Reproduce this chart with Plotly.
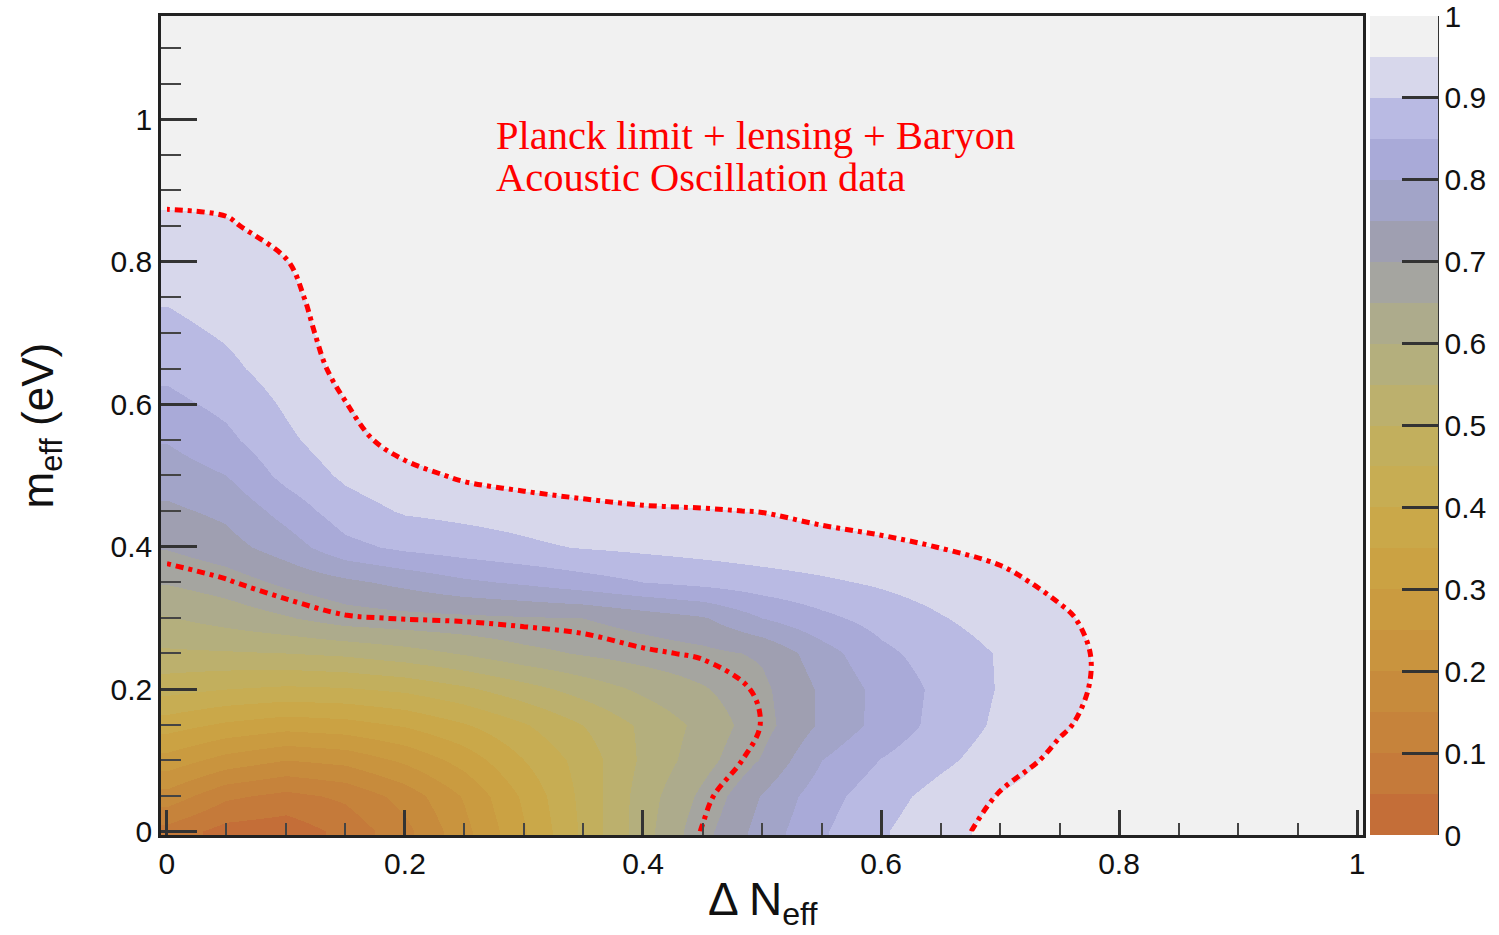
import plotly.graph_objects as go

# Grid nodes: Delta N_eff (columns) and m_eff in eV (rows)
x_nodes = [0.00, 0.05, 0.10, 0.15, 0.20, 0.25, 0.30, 0.35, 0.40, 0.45, 0.50,
           0.55, 0.60, 0.65, 0.70, 0.75, 0.80, 0.85, 0.90, 0.95, 1.00]
y_nodes = [0.00, 0.05, 0.10, 0.15, 0.20, 0.25, 0.30, 0.35, 0.40, 0.45, 0.50, 0.55,
           0.60, 0.65, 0.70, 0.75, 0.80, 0.85, 0.90, 0.95, 1.00, 1.05, 1.10, 1.15]

# Confidence level at each node, one list per m_eff row
cl_m000 = [0.080, 0.030, 0.020, 0.065, 0.135, 0.235, 0.345, 0.460, 0.580, 0.684, 0.771, 0.844, 0.895, 0.932, 0.967, 0.980, 0.990, 0.990, 0.990, 0.990, 0.990]
cl_m005 = [0.180, 0.110, 0.085, 0.110, 0.170, 0.255, 0.360, 0.465, 0.575, 0.663, 0.754, 0.830, 0.880, 0.919, 0.953, 0.975, 0.990, 0.990, 0.990, 0.990, 0.990]
cl_m010 = [0.280, 0.230, 0.200, 0.215, 0.260, 0.320, 0.400, 0.470, 0.560, 0.630, 0.705, 0.800, 0.852, 0.889, 0.926, 0.962, 0.980, 0.990, 0.990, 0.990, 0.990]
cl_m015 = [0.372, 0.340, 0.320, 0.330, 0.355, 0.395, 0.445, 0.500, 0.560, 0.615, 0.682, 0.759, 0.817, 0.868, 0.910, 0.943, 0.975, 0.990, 0.990, 0.990, 0.990]
cl_m020 = [0.467, 0.450, 0.440, 0.445, 0.460, 0.490, 0.530, 0.570, 0.610, 0.645, 0.689, 0.759, 0.816, 0.863, 0.904, 0.935, 0.966, 0.990, 0.990, 0.990, 0.990]
cl_m025 = [0.542, 0.545, 0.550, 0.560, 0.580, 0.605, 0.635, 0.655, 0.672, 0.687, 0.707, 0.779, 0.838, 0.874, 0.904, 0.934, 0.965, 0.990, 0.990, 0.990, 0.990]
cl_m030 = [0.596, 0.620, 0.645, 0.675, 0.684, 0.689, 0.695, 0.700, 0.723, 0.745, 0.800, 0.838, 0.869, 0.897, 0.921, 0.944, 0.967, 0.990, 0.990, 0.990, 0.990]
cl_m035 = [0.654, 0.675, 0.711, 0.739, 0.764, 0.791, 0.808, 0.829, 0.850, 0.864, 0.878, 0.892, 0.907, 0.924, 0.941, 0.959, 0.980, 0.990, 0.990, 0.990, 0.990]
cl_m040 = [0.704, 0.731, 0.775, 0.835, 0.861, 0.876, 0.891, 0.903, 0.911, 0.919, 0.927, 0.935, 0.943, 0.951, 0.960, 0.970, 0.980, 0.990, 0.990, 0.990, 0.990]
cl_m045 = [0.740, 0.761, 0.819, 0.878, 0.905, 0.913, 0.920, 0.935, 0.945, 0.948, 0.951, 0.960, 0.965, 0.975, 0.980, 0.985, 0.990, 0.990, 0.990, 0.990, 0.990]
cl_m050 = [0.773, 0.800, 0.866, 0.909, 0.934, 0.958, 0.974, 0.979, 0.976, 0.973, 0.975, 0.980, 0.985, 0.990, 0.990, 0.990, 0.990, 0.990, 0.990, 0.990, 0.990]
cl_m055 = [0.803, 0.838, 0.890, 0.931, 0.972, 0.985, 0.990, 0.990, 0.990, 0.990, 0.990, 0.990, 0.990, 0.990, 0.990, 0.990, 0.990, 0.990, 0.990, 0.990, 0.990]
cl_m060 = [0.836, 0.863, 0.907, 0.949, 0.980, 0.990, 0.990, 0.990, 0.990, 0.990, 0.990, 0.990, 0.990, 0.990, 0.990, 0.990, 0.990, 0.990, 0.990, 0.990, 0.990]
cl_m065 = [0.862, 0.888, 0.924, 0.962, 0.985, 0.990, 0.990, 0.990, 0.990, 0.990, 0.990, 0.990, 0.990, 0.990, 0.990, 0.990, 0.990, 0.990, 0.990, 0.990, 0.990]
cl_m070 = [0.885, 0.906, 0.936, 0.965, 0.985, 0.990, 0.990, 0.990, 0.990, 0.990, 0.990, 0.990, 0.990, 0.990, 0.990, 0.990, 0.990, 0.990, 0.990, 0.990, 0.990]
cl_m075 = [0.905, 0.924, 0.943, 0.966, 0.985, 0.990, 0.990, 0.990, 0.990, 0.990, 0.990, 0.990, 0.990, 0.990, 0.990, 0.990, 0.990, 0.990, 0.990, 0.990, 0.990]
cl_m080 = [0.924, 0.934, 0.949, 0.970, 0.985, 0.990, 0.990, 0.990, 0.990, 0.990, 0.990, 0.990, 0.990, 0.990, 0.990, 0.990, 0.990, 0.990, 0.990, 0.990, 0.990]
cl_m085 = [0.942, 0.947, 0.960, 0.975, 0.985, 0.990, 0.990, 0.990, 0.990, 0.990, 0.990, 0.990, 0.990, 0.990, 0.990, 0.990, 0.990, 0.990, 0.990, 0.990, 0.990]
cl_m090 = [0.959, 0.958, 0.970, 0.980, 0.990, 0.990, 0.990, 0.990, 0.990, 0.990, 0.990, 0.990, 0.990, 0.990, 0.990, 0.990, 0.990, 0.990, 0.990, 0.990, 0.990]
cl_m095 = [0.970, 0.970, 0.975, 0.985, 0.990, 0.990, 0.990, 0.990, 0.990, 0.990, 0.990, 0.990, 0.990, 0.990, 0.990, 0.990, 0.990, 0.990, 0.990, 0.990, 0.990]
cl_m100 = [0.980, 0.980, 0.985, 0.990, 0.990, 0.990, 0.990, 0.990, 0.990, 0.990, 0.990, 0.990, 0.990, 0.990, 0.990, 0.990, 0.990, 0.990, 0.990, 0.990, 0.990]
cl_m105 = [0.990] * 21
cl_m110 = [0.990] * 21
cl_m115 = [0.990] * 21

cl_rows = [cl_m000, cl_m005, cl_m010, cl_m015, cl_m020, cl_m025, cl_m030, cl_m035,
           cl_m040, cl_m045, cl_m050, cl_m055, cl_m060, cl_m065, cl_m070, cl_m075,
           cl_m080, cl_m085, cl_m090, cl_m095, cl_m100, cl_m105, cl_m110, cl_m115]

# Twenty palette bands, 0 -> 1 in steps of 0.05
band_colors = ["#C46E38", "#C57A3A", "#C6833B", "#C78B3C", "#C9943E",
               "#CA9B40", "#CBA243", "#CAA849", "#C7AD53", "#C2AF5D",
               "#BCB06D", "#B4AF7D", "#ADAB8C", "#A5A5A0", "#9F9FB1",
               "#A2A4C8", "#A9AAD8", "#B9BAE3", "#D7D7EB", "#F1F1F1"]

# Confidence contours drawn on top
cl_levels = [0.68, 0.95]

x_ticks = [0, 0.2, 0.4, 0.6, 0.8, 1]
y_ticks = [0, 0.2, 0.4, 0.6, 0.8, 1]
# the top palette tick sits a hair inside the bar so its label is kept
cbar_ticks = [0, 0.1, 0.2, 0.3, 0.4, 0.5, 0.6, 0.7, 0.8, 0.9, 0.9995]
cbar_labels = ["0", "0.1", "0.2", "0.3", "0.4", "0.5", "0.6", "0.7", "0.8", "0.9", "1"]

# Stepped colour scale built from the band colours
n_bands = len(band_colors)
step_scale = []
for i, c in enumerate(band_colors):
    step_scale.append([i / n_bands, c])
    step_scale.append([(i + 1) / n_bands, c])

# Plot-area geometry in pixels
W, H = 1499, 935
L, R, T, B = 161, 136, 16, 100
PW, PH = W - L - R, H - T - B


def px_x(px):
    return (px - L) / PW


def px_y(py):
    return (H - B - py) / PH


fig = go.Figure()

fig.add_trace(go.Heatmap(
    x=x_nodes, y=y_nodes, z=cl_rows,
    zmin=0, zmax=1, zsmooth="best",
    colorscale=step_scale,
    hoverinfo="skip",
    colorbar=dict(
        x=px_x(1370), xanchor="left", xpad=0,
        y=0.5, yanchor="middle", ypad=0,
        len=1, lenmode="fraction",
        thickness=68, thicknessmode="pixels",
        outlinewidth=0,
        ticks="inside", ticklen=36, tickwidth=3, tickcolor="#333333",
        tickvals=cbar_ticks, ticktext=cbar_labels,
        ticklabeloverflow="allow",
        tickfont=dict(size=30, color="#111111"),
    ),
))

for lev in cl_levels:
    fig.add_trace(go.Contour(
        x=x_nodes, y=y_nodes, z=cl_rows,
        autocontour=False,
        contours=dict(start=lev, end=lev, size=0.01, coloring="none"),
        line=dict(color="#FF0000", width=5, dash="8px,5px,4px,5px", smoothing=1.0),
        showscale=False, hoverinfo="skip",
    ))

axis_common = dict(
    ticks="inside", tickwidth=3, tickcolor="#333333",
    showline=True, linewidth=2.5, linecolor="#222222", mirror=True,
    showgrid=False, zeroline=False,
    tickfont=dict(size=30, color="#111111"),
)

fig.update_xaxes(range=[-0.005, 1.005], tickvals=x_ticks, ticklen=25,
                 minor=dict(dtick=0.05, tick0=0, ticks="inside", ticklen=12,
                            tickwidth=2, tickcolor="#444444"),
                 **axis_common)
fig.update_yaxes(range=[-0.005, 1.145], tickvals=y_ticks, ticklen=36,
                 minor=dict(dtick=0.05, tick0=0, ticks="inside", ticklen=20,
                            tickwidth=2, tickcolor="#444444"),
                 **axis_common)

# Right edge of the palette
fig.add_shape(type="line", xref="paper", yref="paper",
              x0=px_x(1438), x1=px_x(1438), y0=0, y1=1,
              line=dict(color="#333333", width=2))

annotations = [
    dict(text="Δ N<sub>eff</sub>", x=0.5, y=px_y(903), xanchor="center", yanchor="middle",
         font=dict(size=46, color="#111111")),
    dict(text="m<sub>eff</sub> (eV)", x=px_x(40), y=0.5, xanchor="center", yanchor="middle",
         textangle=-90, font=dict(size=44, color="#111111")),
    dict(text="Planck limit + lensing + Baryon", x=px_x(494), y=px_y(135),
         xanchor="left", yanchor="middle",
         font=dict(family="Liberation Serif, Times New Roman, serif", size=40.5, color="#FF0000")),
    dict(text="Acoustic Oscillation data", x=px_x(494), y=px_y(178),
         xanchor="left", yanchor="middle",
         font=dict(family="Liberation Serif, Times New Roman, serif", size=40.5, color="#FF0000")),
]
for a in annotations:
    a.update(xref="paper", yref="paper", showarrow=False)

fig.update_layout(
    width=W, height=H,
    margin=dict(l=L, r=R, t=T, b=B, autoexpand=False),
    paper_bgcolor="white", plot_bgcolor="#F1F1F1",
    font=dict(family="Liberation Sans, Arial, sans-serif", size=30, color="#111111"),
    showlegend=False,
    annotations=annotations,
)

fig.write_html("out.html")
